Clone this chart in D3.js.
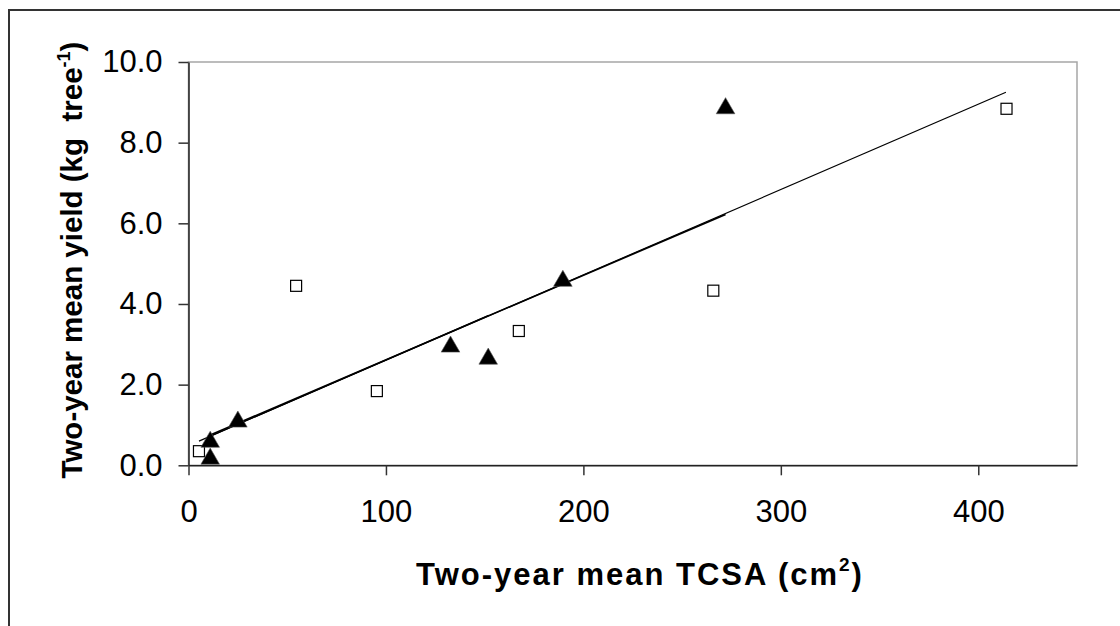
<!DOCTYPE html>
<html>
<head>
<meta charset="utf-8">
<script src="https://cdn.jsdelivr.net/npm/d3@7"></script>
<style>
  body { margin: 0; background: #fff; }
  svg { display: block; font-family: "Liberation Sans", Arial, sans-serif; }
</style>
</head>
<body>
<div id="plot"></div>
<script>
// data
const squareX = [5.3, 54.5, 95.4, 167.3, 265.8, 414.3];
const squareY = [0.35, 4.45, 1.84, 3.33, 4.33, 8.84];
const triangleX = [11, 11, 25, 132.7, 151.8, 189.6, 272];
const triangleY = [0.16, 0.58, 1.08, 2.94, 2.64, 4.57, 8.85];

// trend line end points (x1, y1, x2, y2)
const trendAll = [5.3, 0.60, 414, 9.25];
const trendTri = [11, 0.75, 272, 6.22];
const trendPart = [11, 0.72, 152, 3.72];

const xTicks = [0, 100, 200, 300, 400];
const yTicks = [0, 2, 4, 6, 8, 10];

const width = 1120;
const height = 626;
const plot = {left: 188.5, right: 1077, top: 62, bottom: 465.3};

const svg = d3.select("div#plot")
  .append("svg")
    .attr("width", width)
    .attr("height", height);

// outer frame (only top and left are inside the picture)
svg.append("path")
    .attr("d", `M9,${height + 5}V10H${width + 5}`)
    .attr("fill", "none")
    .attr("stroke", "#333")
    .attr("stroke-width", 2);

const xScale = d3.scaleLinear()
    .domain([0, 450])
    .range([plot.left, plot.right]);

const yScale = d3.scaleLinear()
    .domain([0, 10])
    .range([plot.bottom, plot.top]);

// plot area border
svg.append("rect")
    .attr("x", plot.left)
    .attr("y", plot.top)
    .attr("width", plot.right - plot.left)
    .attr("height", plot.bottom - plot.top)
    .attr("fill", "none")
    .attr("stroke", "#a6a6a6")
    .attr("stroke-width", 1.5);

const xAxis = d3.axisBottom(xScale)
    .tickValues(xTicks)
    .tickSizeInner(10)
    .tickSizeOuter(0)
    .tickPadding(25);

const yAxis = d3.axisLeft(yScale)
    .tickValues(yTicks)
    .tickFormat(d3.format(".1f"))
    .tickSizeInner(10)
    .tickSizeOuter(0)
    .tickPadding(16);

const gx = svg.append("g")
    .attr("transform", `translate(0, ${plot.bottom})`)
    .call(xAxis);

const gy = svg.append("g")
    .attr("transform", `translate(${plot.left}, 0)`)
    .call(yAxis);

[gx, gy].forEach(g => {
  g.select(".domain").attr("stroke", "#222").attr("stroke-width", 1.5);
  g.selectAll(".tick line").attr("stroke", "#333").attr("stroke-width", 1.5);
  g.selectAll(".tick text")
      .attr("fill", "#000")
      .style("font-family", "'Liberation Sans', Arial, sans-serif")
      .style("font-size", "31px");
});

// trend lines
const lines = [
  {p: trendAll, w: 1.2},
  {p: trendTri, w: 1.6},
  {p: trendPart, w: 1.2}
];
svg.selectAll("line.trend")
  .data(lines)
  .join("line")
    .attr("class", "trend")
    .attr("x1", d => xScale(d.p[0]))
    .attr("y1", d => yScale(d.p[1]))
    .attr("x2", d => xScale(d.p[2]))
    .attr("y2", d => yScale(d.p[3]))
    .attr("stroke", "#000")
    .attr("stroke-width", d => d.w);

// open squares
svg.selectAll("rect.sq")
  .data(d3.zip(squareX, squareY))
  .join("rect")
    .attr("class", "sq")
    .attr("x", d => xScale(d[0]) - 5.5)
    .attr("y", d => yScale(d[1]) - 5.5)
    .attr("width", 11)
    .attr("height", 11)
    .attr("fill", "#fff")
    .attr("stroke", "#000")
    .attr("stroke-width", 1.2);

// filled triangles
const tri = d3.symbol().type(d3.symbolTriangle).size(150);
svg.selectAll("path.tri")
  .data(d3.zip(triangleX, triangleY))
  .join("path")
    .attr("class", "tri")
    .attr("transform", d => `translate(${xScale(d[0])}, ${yScale(d[1])})`)
    .attr("d", tri)
    .attr("fill", "#000")
    .attr("stroke", "#555")
    .attr("stroke-width", 0.6);

// axis titles
const xTitle = svg.append("text")
    .attr("x", 640)
    .attr("y", 585)
    .attr("text-anchor", "middle")
    .style("font-size", "31px")
    .style("font-weight", "bold")
    .style("letter-spacing", "2px");
xTitle.append("tspan").text("Two-year mean TCSA (cm");
xTitle.append("tspan").attr("dy", -14).style("font-size", "19px").text("2");
xTitle.append("tspan").attr("dy", 14).text(")");

const yTitle = svg.append("text")
    .attr("transform", "translate(82, 260) rotate(-90)")
    .attr("text-anchor", "middle")
    .style("font-size", "29.5px")
    .style("font-weight", "bold");
yTitle.append("tspan").text("Two-year mean yield (kg\u00a0 tree");
yTitle.append("tspan").attr("dy", -12).style("font-size", "18px").text("-1");
yTitle.append("tspan").attr("dy", 12).text(")");
</script>
</body>
</html>
